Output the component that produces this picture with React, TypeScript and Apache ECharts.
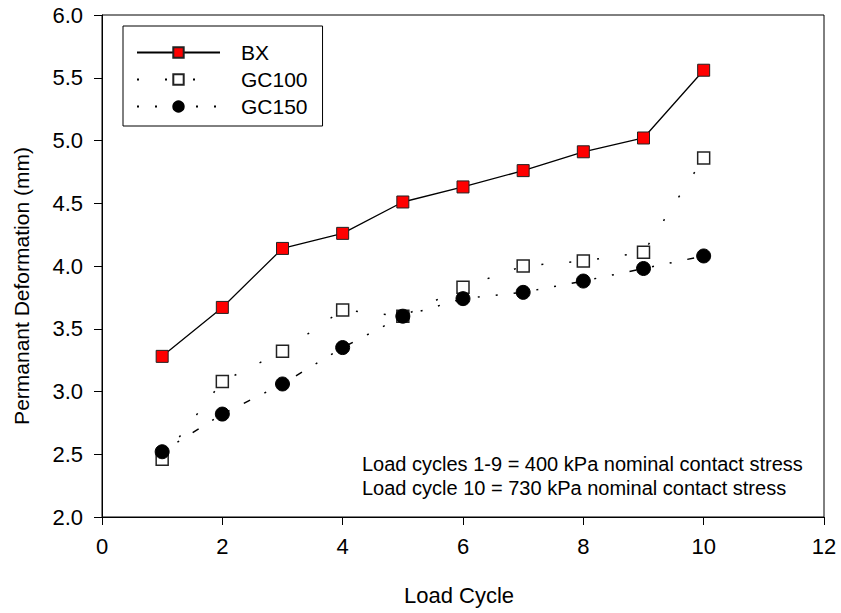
import React, { useEffect, useRef } from "react";
import * as echarts from "echarts";

const cycles = [1, 2, 3, 4, 5, 6, 7, 8, 9, 10];
const bx = [3.28, 3.67, 4.14, 4.26, 4.51, 4.63, 4.76, 4.91, 5.02, 5.56];
const gc100 = [2.46, 3.08, 3.32, 3.65, 3.6, 3.83, 4.0, 4.04, 4.11, 4.86];
const gc150 = [2.52, 2.82, 3.06, 3.35, 3.6, 3.74, 3.79, 3.88, 3.98, 4.08];
const notes = [
  "Load cycles 1-9 = 400 kPa nominal contact stress",
  "Load cycle 10 = 730 kPa nominal contact stress",
];

const FONT = "'Liberation Sans', Arial, sans-serif";

const pairs = (ys: number[]) => cycles.map((c, i) => [c, ys[i]]);

export default function App() {
  const ref = useRef<HTMLDivElement>(null);
  useEffect(() => {
    if (!ref.current) return;
    const chart = echarts.init(ref.current, null, { renderer: "svg" });
    chart.setOption({
      animation: false,
      backgroundColor: "#fff",
      grid: {
        left: 102,
        right: 17,
        top: 15,
        bottom: 96,
        show: true,
        borderColor: "#000",
        borderWidth: 1,
      },
      legend: {
        left: 123,
        top: 26,
        orient: "vertical",
        borderColor: "#000",
        borderWidth: 1,
        padding: [16, 15, 9, 13],
        itemWidth: 83,
        itemHeight: 13,
        itemGap: 6,
        textStyle: {
          fontFamily: FONT,
          fontSize: 21,
          color: "#000",
          padding: [0, 0, 0, 16],
        },
        data: ["BX", "GC100", "GC150"],
      },
      xAxis: {
        type: "value",
        min: 0,
        max: 12,
        interval: 2,
        axisLine: { show: true, lineStyle: { color: "#000", width: 1 } },
        axisTick: { show: true, inside: false, length: 8, lineStyle: { color: "#000" } },
        axisLabel: { fontFamily: FONT, fontSize: 22, color: "#000", margin: 18 },
        splitLine: { show: false },
      },
      yAxis: {
        type: "value",
        min: 2,
        max: 6,
        interval: 0.5,
        axisLine: { show: true, lineStyle: { color: "#000", width: 1 } },
        axisTick: { show: true, inside: false, length: 8, lineStyle: { color: "#000" } },
        axisLabel: {
          fontFamily: FONT,
          fontSize: 22,
          color: "#000",
          margin: 19,
          formatter: (v: number) => v.toFixed(1),
        },
        splitLine: { show: false },
      },
      graphic: [
        {
          type: "text",
          x: 404,
          y: 595,
          style: {
            text: "Load Cycle",
            fontFamily: FONT,
            fontSize: 22,
            fill: "#000",
            verticalAlign: "middle",
          },
        },
        {
          type: "text",
          x: 21,
          y: 286,
          rotation: Math.PI / 2,
          style: {
            text: "Permanant Deformation (mm)",
            fontFamily: FONT,
            fontSize: 21,
            fill: "#000",
            align: "center",
            verticalAlign: "middle",
          },
        },
        ...notes.map((t, i) => ({
          type: "text",
          x: 362,
          y: 464 + i * 24,
          style: {
            text: t,
            fontFamily: FONT,
            fontSize: 20,
            fill: "#000",
            verticalAlign: "middle",
          },
        })),
      ],
      series: [
        {
          name: "GC150",
          type: "line",
          data: pairs(gc150),
          symbol: "circle",
          symbolSize: 14,
          itemStyle: { color: "#000", borderColor: "#000", borderWidth: 1 },
          lineStyle: { color: "#000", width: 1.5, type: [2, 16, 2, 16, 7, 16] },
          z: 3,
        },
        {
          name: "GC100",
          type: "line",
          data: pairs(gc100),
          symbol: "rect",
          symbolSize: 12,
          itemStyle: { color: "#fff", borderColor: "#222", borderWidth: 1.5 },
          lineStyle: { color: "#000", width: 1.5, type: [2, 26] },
          z: 2,
        },
        {
          name: "BX",
          type: "line",
          data: pairs(bx),
          symbol: "rect",
          symbolSize: 12,
          itemStyle: { color: "#ff0000", borderColor: "#222", borderWidth: 1 },
          lineStyle: { color: "#000", width: 1.3, type: "solid" },
          z: 4,
        },
      ],
    });
    return () => chart.dispose();
  }, []);
  return <div ref={ref} style={{ width: 841, height: 613, position: "absolute", left: 0, top: 0 }} />;
}
